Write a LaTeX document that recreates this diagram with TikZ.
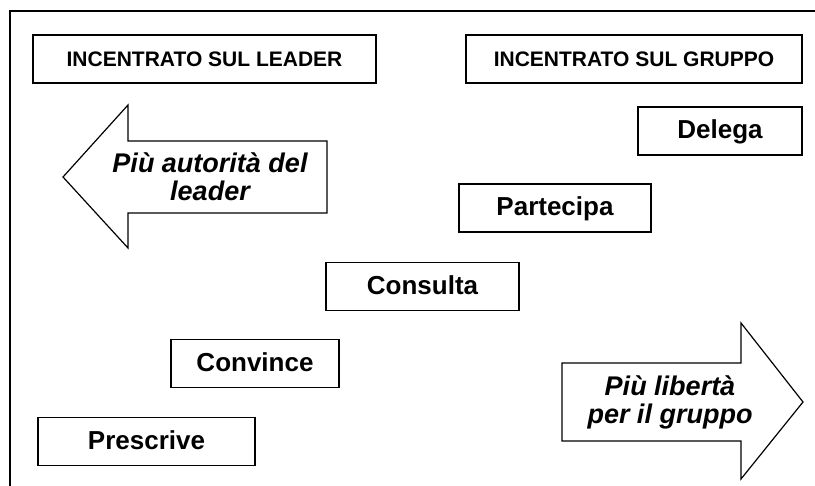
\documentclass[tikz,border=0pt]{standalone}
\usepackage{fontspec}
\setmainfont{Liberation Sans}
\newcommand{\boxh}{48pt}
\tikzset{
    step node/.style={draw, line width=1.5pt, minimum height=\boxh, inner sep=0pt,
        text height=19pt, text depth=3pt,
        font=\fontsize{26}{30}\selectfont\bfseries},
    head node/.style={draw, line width=1.5pt, minimum height=\boxh, inner sep=0pt,
        text height=15pt, text depth=0pt,
        font=\fontsize{21}{25}\selectfont\bfseries},
    arrow text/.style={align=center, inner sep=0pt,
        font=\fontsize{27}{28}\selectfont\bfseries\itshape},
    big arrow/.style={draw, line width=1.2pt, line join=miter},
    frame line/.style={draw, line width=2pt}
}
\begin{document}
\begin{tikzpicture}[x=1pt, y=-1pt]
        \useasboundingbox (0,0) rectangle (815,486);
        % outer frame
        \draw[frame line] (10,486) -- (10,11) -- (815,11);

        % headings
        \node[head node, minimum width=343pt] (leader) at (204.5,59) {INCENTRATO SUL LEADER};
        \node[head node, minimum width=336pt] (gruppo) at (634,59) {INCENTRATO SUL GRUPPO};

        % the five styles, as a staircase
        \node[step node, minimum width=164pt] (delega)    at (720,131)   {Delega};
        \node[step node, minimum width=192pt] (partecipa) at (555,208)   {Partecipa};
        \node[step node, minimum width=193pt] (consulta)  at (422.5,286.5) {Consulta};
        \node[step node, minimum width=168pt] (convince)  at (255,363.5) {Convince};
        \node[step node, minimum width=217pt] (prescrive) at (146.5,441.5) {Prescrive};

        % left arrow
        \draw[big arrow] (327,141) -- (128,141) -- (128,105) -- (63,177)
            -- (128,248) -- (128,213) -- (327,213) -- cycle;
        \node[arrow text] (autorita) at (210,177) {Più autorità del\\leader};

        % right arrow
        \draw[big arrow] (562,363) -- (741,363) -- (741,323) -- (803,402)
            -- (741,479) -- (741,441) -- (562,441) -- cycle;
        \node[arrow text] (liberta) at (670,402) {Più libertà\\per il gruppo};
\end{tikzpicture}
\end{document}
